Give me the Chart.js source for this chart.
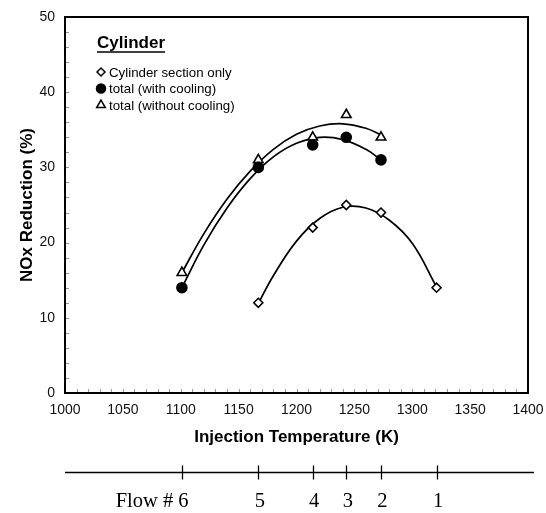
<!DOCTYPE html>
<html>
<head>
<meta charset="utf-8">
<script src="https://cdn.jsdelivr.net/npm/chart.js@4.4.0/dist/chart.umd.min.js"></script>
<style>
  html, body { margin: 0; padding: 0; background: #fff; }
</style>
</head>
<body>
<canvas id="chart-nox" width="546" height="513"></canvas>
<script>
// flow number -> injection temperature (K)
const flowTemps = [1101, 1167, 1214, 1243, 1273, 1321];
const flowLabels = ["6", "5", "4", "3", "2", "1"];

// measured points
const cylTemps = [1167, 1214, 1243, 1273, 1321];
const cylOnly = [12, 22, 25, 24, 14];
const totalTemps = [1101, 1167, 1214, 1243, 1273];
const totalCooling = [14, 30, 33, 34, 31];
const totalNoCooling = [16, 31, 34, 37, 34];

// trend curves
const cylFitTemps = [1167, 1180, 1200, 1220, 1240, 1260, 1280, 1300, 1321];
const cylFit = [11.9, 15.6, 20.2, 23.2, 24.7, 24.6, 23.0, 19.9, 14.1];
const totalFitTemps = [1101, 1120, 1140, 1160, 1180, 1200, 1220, 1240, 1260, 1273];
const coolingFit = [14.0, 19.7, 24.6, 28.5, 31.4, 33.2, 34.0, 33.7, 32.4, 31.0];
const noCoolingFit = [16.0, 21.2, 25.8, 29.5, 32.4, 34.4, 35.5, 35.8, 35.2, 34.3];

// axis ticks
const xTickValues = [1000, 1050, 1100, 1150, 1200, 1250, 1300, 1350, 1400];
const yTickValues = [0, 10, 20, 30, 40, 50];

const legendLabels = ["Cylinder section only", "total (with cooling)", "total (without cooling)"];

const SANS = "'Liberation Sans', Arial, sans-serif";
const SERIF = "'Liberation Serif', 'Times New Roman', serif";

function toPoints(xs, ys) {
  return xs.map((x, i) => ({ x: x, y: ys[i] }));
}

const markerStyles = [
  { pointStyle: "rectRot", radius: 4.5, fill: "#fff" },
  { pointStyle: "circle", radius: 5, fill: "#000" },
  { pointStyle: "triangle", radius: 5.5, fill: "#fff" },
];

function fitLine(data) {
  return {
    type: "line",
    data: data,
    borderColor: "#000",
    borderWidth: 1.7,
    pointRadius: 0,
    tension: 0.4,
    fill: false,
    order: 2,
  };
}

function markers(data, m) {
  return {
    type: "scatter",
    data: data,
    pointStyle: m.pointStyle,
    pointRadius: m.radius,
    pointBackgroundColor: m.fill,
    pointBorderColor: "#000",
    pointBorderWidth: 1.6,
    order: 1,
  };
}

// frame, inner ticks, titles, legend and the flow number axis
const decorPlugin = {
  id: "decor",
  afterDraw(chart) {
    const { ctx, chartArea: a, scales: { x, y } } = chart;
    ctx.save();

    // small inner ticks
    ctx.strokeStyle = "#999";
    ctx.lineWidth = 1;
    ctx.beginPath();
    for (let v = 1010; v < 1400; v += 10) {
      const px = Math.round(x.getPixelForValue(v)) + 0.5;
      ctx.moveTo(px, a.bottom);
      ctx.lineTo(px, a.bottom - 4);
    }
    for (let v = 2; v < 50; v += 2) {
      const py = Math.round(y.getPixelForValue(v)) + 0.5;
      ctx.moveTo(a.left, py);
      ctx.lineTo(a.left + 4, py);
    }
    ctx.stroke();

    // frame
    ctx.strokeStyle = "#000";
    ctx.lineWidth = 2;
    ctx.strokeRect(a.left, a.top, a.right - a.left, a.bottom - a.top);

    // axis titles
    ctx.fillStyle = "#000";
    ctx.font = "bold 17px " + SANS;
    ctx.textAlign = "center";
    ctx.textBaseline = "middle";
    ctx.fillText("Injection Temperature (K)", (a.left + a.right) / 2, 437);
    ctx.save();
    ctx.translate(27, (a.top + a.bottom) / 2);
    ctx.rotate(-Math.PI / 2);
    ctx.fillText("NOx Reduction (%)", 0, 0);
    ctx.restore();

    // legend box inside the plot
    ctx.textAlign = "left";
    ctx.font = "bold 17px " + SANS;
    ctx.fillText("Cylinder", 97, 43);
    const w = ctx.measureText("Cylinder").width;
    ctx.lineWidth = 1.4;
    ctx.beginPath();
    ctx.moveTo(97, 52);
    ctx.lineTo(97 + w, 52);
    ctx.stroke();

    ctx.font = "13.3px " + SANS;
    legendLabels.forEach((label, i) => {
      const ly = 72 + i * 16.5;
      const m = markerStyles[i];
      ctx.fillStyle = m.fill;
      ctx.strokeStyle = "#000";
      ctx.lineWidth = 1.5;
      Chart.helpers.drawPoint(ctx, { pointStyle: m.pointStyle, radius: m.radius - 0.5, rotation: 0, borderWidth: 1.5 }, 101, ly);
      ctx.fillStyle = "#000";
      ctx.fillText(label, 109, ly + 1);
    });

    // flow number axis
    const lineY = 472.5;
    ctx.strokeStyle = "#000";
    ctx.lineWidth = 1.3;
    ctx.beginPath();
    ctx.moveTo(a.left, lineY);
    ctx.lineTo(a.right + 6, lineY);
    flowTemps.forEach((t) => {
      const px = Math.round(x.getPixelForValue(t)) + 0.5;
      ctx.moveTo(px, lineY - 7);
      ctx.lineTo(px, lineY + 7);
    });
    ctx.stroke();

    ctx.font = "20.5px " + SERIF;
    ctx.textBaseline = "alphabetic";
    ctx.textAlign = "center";
    flowTemps.forEach((t, i) => {
      const px = x.getPixelForValue(t) + 1.5;
      ctx.fillText(flowLabels[i], px, 507);
      if (i === 0) {
        const dw = ctx.measureText(flowLabels[i]).width;
        ctx.textAlign = "right";
        ctx.fillText("Flow # ", px - dw / 2, 507);
        ctx.textAlign = "center";
      }
    });

    ctx.restore();
  },
};

const ctx = document.getElementById("chart-nox");

new Chart(ctx, {
  data: {
    datasets: [
      markers(toPoints(cylTemps, cylOnly), markerStyles[0]),
      markers(toPoints(totalTemps, totalCooling), markerStyles[1]),
      markers(toPoints(totalTemps, totalNoCooling), markerStyles[2]),
      fitLine(toPoints(cylFitTemps, cylFit)),
      fitLine(toPoints(totalFitTemps, coolingFit)),
      fitLine(toPoints(totalFitTemps, noCoolingFit)),
    ],
  },
  options: {
    responsive: false,
    animation: false,
    layout: { padding: { top: 17, right: 18, left: 0, bottom: 0 } },
    plugins: {
      legend: { display: false },
      tooltip: { enabled: false },
    },
    scales: {
      x: {
        type: "linear",
        min: 1000,
        max: 1400,
        afterBuildTicks: (s) => { s.ticks = xTickValues.map((v) => ({ value: v })); },
        afterFit: (s) => {
          s.height = 120;
          s.paddingLeft = 0;
          s.paddingRight = 0;
        },
        grid: { display: false, drawTicks: false },
        border: { display: false },
        ticks: {
          padding: 9,
          color: "#111",
          font: { family: SANS, size: 14 },
          maxRotation: 0,
          callback: (v) => String(v),
        },
      },
      y: {
        type: "linear",
        min: 0,
        max: 50,
        afterBuildTicks: (s) => { s.ticks = yTickValues.map((v) => ({ value: v })); },
        afterFit: (s) => {
          s.width = 65;
          s.paddingTop = 0;
          s.paddingBottom = 0;
        },
        grid: { display: false, drawTicks: false },
        border: { display: false },
        ticks: {
          padding: 10,
          color: "#111",
          font: { family: SANS, size: 14 },
          callback: (v) => String(v),
        },
      },
    },
  },
  plugins: [decorPlugin],
});
</script>
</body>
</html>
